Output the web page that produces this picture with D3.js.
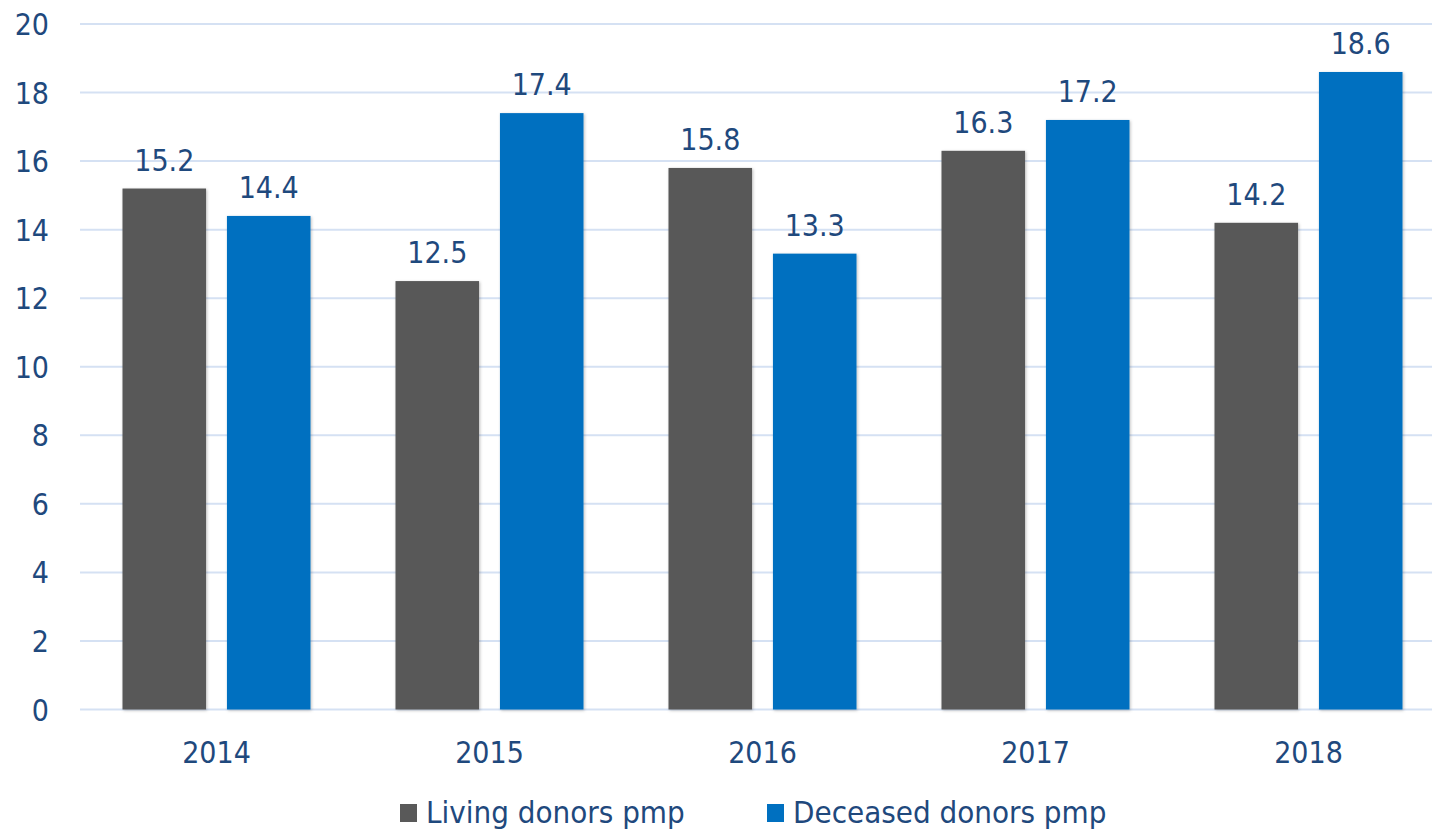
<!DOCTYPE html>
<html>
<head>
<meta charset="utf-8">
<script src="https://cdn.jsdelivr.net/npm/d3@7"></script>
<style>
  body { margin: 0; background: #fff; }
  text { font-family: "DejaVu Sans Condensed", "DejaVu Sans", sans-serif; font-stretch: condensed; fill: #1F497D; }
</style>
</head>
<body>
<div class="chart"></div>
<script>
// data
const years = ['2014', '2015', '2016', '2017', '2018'];
const living = [15.2, 12.5, 15.8, 16.3, 14.2];
const deceased = [14.4, 17.4, 13.3, 17.2, 18.6];
const seriesNames = ['Living donors pmp', 'Deceased donors pmp'];
const colors = ['#595959', '#0070C0'];
const yTicks = [0, 2, 4, 6, 8, 10, 12, 14, 16, 18, 20];

const W = 1432, H = 830;
const svg = d3.select('.chart')
  .append('svg')
  .attr('width', W)
  .attr('height', H);

// soft shadow like the original
const defs = svg.append('defs');
const f = defs.append('filter').attr('id', 'sh').attr('x', '-10%').attr('y', '-10%').attr('width', '130%').attr('height', '130%');
f.append('feDropShadow').attr('dx', 1).attr('dy', 1).attr('stdDeviation', 1.5).attr('flood-color', '#000').attr('flood-opacity', 0.25);

const x = d3.scaleBand().domain(years).range([80, 1445]).paddingInner(0).paddingOuter(0);
const x1 = d3.scaleBand().domain([0, 1]).range([42.5, x.bandwidth() - 42.5]).paddingInner(0.2);
const y = d3.scaleLinear().domain([0, 20]).range([709.5, 24]);

// gridlines
svg.append('g')
  .selectAll('line')
  .data(yTicks)
  .enter()
  .append('line')
  .attr('x1', 80)
  .attr('x2', W)
  .attr('y1', d => y(d))
  .attr('y2', d => y(d))
  .attr('stroke', '#D5E1F3')
  .attr('stroke-width', 2);

// y tick labels
svg.append('g')
  .selectAll('text')
  .data(yTicks)
  .enter()
  .append('text')
  .attr('x', 49)
  .attr('y', d => y(d) + 11)
  .attr('text-anchor', 'end')
  .attr('font-size', 30)
  .text(d => d);

const rows = years.map((yr, i) => ({ yr, vals: [living[i], deceased[i]] }));

const groups = svg.append('g')
  .selectAll('g')
  .data(rows)
  .enter()
  .append('g')
  .attr('transform', d => `translate(${x(d.yr)},0)`);

groups.selectAll('rect')
  .data(d => d.vals)
  .enter()
  .append('rect')
  .attr('x', (d, i) => x1(i))
  .attr('width', x1.bandwidth())
  .attr('y', d => y(d))
  .attr('height', d => y(0) - y(d))
  .attr('fill', (d, i) => colors[i])
  .attr('filter', 'url(#sh)');

groups.selectAll('text.val')
  .data(d => d.vals)
  .enter()
  .append('text')
  .attr('class', 'val')
  .attr('x', (d, i) => x1(i) + x1.bandwidth() / 2)
  .attr('y', d => y(d) - 18)
  .attr('text-anchor', 'middle')
  .attr('font-size', 30)
  .text(d => d.toFixed(1));

// x axis labels
svg.append('g')
  .selectAll('text')
  .data(years)
  .enter()
  .append('text')
  .attr('x', d => x(d) + x.bandwidth() / 2)
  .attr('y', 763)
  .attr('text-anchor', 'middle')
  .attr('font-size', 30)
  .text(d => d);

// legend
const legX = [400, 767];
const leg = svg.append('g')
  .selectAll('g')
  .data(seriesNames)
  .enter()
  .append('g')
  .attr('transform', (d, i) => `translate(${legX[i]},0)`);
leg.append('rect')
  .attr('x', 0)
  .attr('y', 804)
  .attr('width', 17)
  .attr('height', 18)
  .attr('fill', (d, i) => colors[i]);
leg.append('text')
  .attr('x', 26)
  .attr('y', 823)
  .attr('font-size', 31)
  .text(d => d);
</script>
</body>
</html>
